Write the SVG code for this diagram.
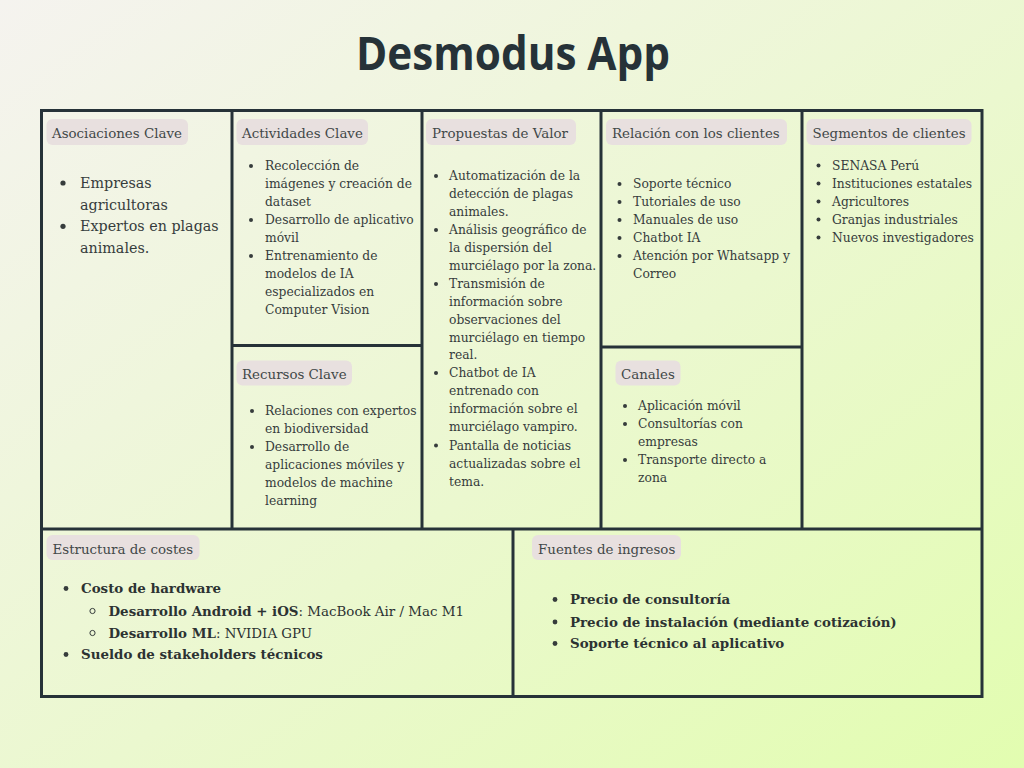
<svg xmlns="http://www.w3.org/2000/svg" width="1024" height="768" viewBox="0 0 1024 768">
<defs>
<linearGradient id="bg" x1="0" y1="0" x2="1" y2="1">
<stop offset="0" stop-color="#f5f3ef"/>
<stop offset="0.55" stop-color="#ebf8cf"/>
<stop offset="1" stop-color="#e2fdb0"/>
</linearGradient>
<style>
.pill{fill:#e8e0df}
.ph{font-family:"DejaVu Serif","Liberation Serif",serif;font-size:13.4px;fill:#424848}
.b{font-family:"DejaVu Serif","Liberation Serif",serif;font-size:12.3px;fill:#363c3c}
.bl{font-family:"DejaVu Serif","Liberation Serif",serif;font-size:14.3px;fill:#363c3c}
.bb{font-family:"DejaVu Serif","Liberation Serif",serif;font-size:13.4px;font-weight:bold;fill:#2c3232}
.r{font-weight:normal}
.dot{fill:#363c3c}
.ring{fill:none;stroke:#363c3c;stroke-width:1}
.grid{stroke:#263238;stroke-width:3;fill:none}
.title{font-family:"Open Sans","DejaVu Sans",sans-serif;font-weight:bold;font-size:46px;fill:#263238}
</style>
</defs>
<rect x="0" y="0" width="1024" height="768" fill="url(#bg)"/>
<text class="title" x="356" y="70" textLength="314" lengthAdjust="spacingAndGlyphs">Desmodus App</text>

<g id="connectors">
<rect class="grid" x="41.5" y="110.5" width="940.5" height="586"/>
<line class="grid" x1="232" y1="110" x2="232" y2="529"/>
<line class="grid" x1="422" y1="110" x2="422" y2="529"/>
<line class="grid" x1="601" y1="110" x2="601" y2="529"/>
<line class="grid" x1="802" y1="110" x2="802" y2="529"/>
<line class="grid" x1="232" y1="345.5" x2="422" y2="345.5"/>
<line class="grid" x1="601" y1="347" x2="802" y2="347"/>
<line class="grid" x1="41" y1="529" x2="982" y2="529"/>
<line class="grid" x1="513" y1="529" x2="513" y2="697"/>
</g>

<g id="asociaciones-clave">
<rect class="pill" x="46.5" y="119" width="141.5" height="26" rx="6"/>
<text class="ph" x="52" y="137.5">Asociaciones Clave</text>
<circle class="dot" cx="63" cy="183" r="2.6"/>
<circle class="dot" cx="63" cy="226.3" r="2.6"/>
<text class="bl"><tspan x="80" y="188">Empresas</tspan><tspan x="80" y="209.7">agricultoras</tspan><tspan x="80" y="231.3">Expertos en plagas</tspan><tspan x="80" y="253">animales.</tspan></text>
</g>

<g id="actividades-clave">
<rect class="pill" x="236.5" y="119" width="131.5" height="26" rx="6"/>
<text class="ph" x="242" y="137.5">Actividades Clave</text>
<circle class="dot" cx="251" cy="166" r="2"/>
<circle class="dot" cx="251" cy="220" r="2"/>
<circle class="dot" cx="251" cy="256" r="2"/>
<text class="b"><tspan x="265" y="170">Recolección de</tspan><tspan x="265" y="188">imágenes y creación de</tspan><tspan x="265" y="206">dataset</tspan><tspan x="265" y="224">Desarrollo de aplicativo</tspan><tspan x="265" y="242">móvil</tspan><tspan x="265" y="260">Entrenamiento de</tspan><tspan x="265" y="278">modelos de IA</tspan><tspan x="265" y="296">especializados en</tspan><tspan x="265" y="314">Computer Vision</tspan></text>
</g>

<g id="recursos-clave">
<rect class="pill" x="236.5" y="360.5" width="115.5" height="25" rx="6"/>
<text class="ph" x="242" y="378.5">Recursos Clave</text>
<circle class="dot" cx="252" cy="411" r="2"/>
<circle class="dot" cx="252" cy="447" r="2"/>
<text class="b"><tspan x="265" y="415">Relaciones con expertos</tspan><tspan x="265" y="433">en biodiversidad</tspan><tspan x="265" y="451">Desarrollo de</tspan><tspan x="265" y="469">aplicaciones móviles y</tspan><tspan x="265" y="487">modelos de machine</tspan><tspan x="265" y="505">learning</tspan></text>
</g>

<g id="propuestas-de-valor">
<rect class="pill" x="426" y="119" width="150" height="26" rx="6"/>
<text class="ph" x="432" y="137.5">Propuestas de Valor</text>
<circle class="dot" cx="436" cy="176" r="2"/>
<circle class="dot" cx="436" cy="230" r="2"/>
<circle class="dot" cx="436" cy="284" r="2"/>
<circle class="dot" cx="436" cy="373" r="2"/>
<circle class="dot" cx="436" cy="445.5" r="2"/>
<text class="b"><tspan x="449" y="180">Automatización de la</tspan><tspan x="449" y="198">detección de plagas</tspan><tspan x="449" y="216">animales.</tspan><tspan x="449" y="234">Análisis geográfico de</tspan><tspan x="449" y="252">la dispersión del</tspan><tspan x="449" y="270">murciélago por la zona.</tspan><tspan x="449" y="288">Transmisión de</tspan><tspan x="449" y="306">información sobre</tspan><tspan x="449" y="324">observaciones del</tspan><tspan x="449" y="342">murciélago en tiempo</tspan><tspan x="449" y="359">real.</tspan><tspan x="449" y="377">Chatbot de IA</tspan><tspan x="449" y="395">entrenado con</tspan><tspan x="449" y="413">información sobre el</tspan><tspan x="449" y="431">murciélago vampiro.</tspan><tspan x="449" y="449.5">Pantalla de noticias</tspan><tspan x="449" y="467.5">actualizadas sobre el</tspan><tspan x="449" y="485.5">tema.</tspan></text>
</g>

<g id="relacion-con-los-clientes">
<rect class="pill" x="606" y="119" width="181" height="26" rx="6"/>
<text class="ph" x="612" y="137.5">Relación con los clientes</text>
<circle class="dot" cx="619.5" cy="184" r="2"/>
<circle class="dot" cx="619.5" cy="202" r="2"/>
<circle class="dot" cx="619.5" cy="220" r="2"/>
<circle class="dot" cx="619.5" cy="238" r="2"/>
<circle class="dot" cx="619.5" cy="256" r="2"/>
<text class="b"><tspan x="633" y="188">Soporte técnico</tspan><tspan x="633" y="206">Tutoriales de uso</tspan><tspan x="633" y="224">Manuales de uso</tspan><tspan x="633" y="242">Chatbot IA</tspan><tspan x="633" y="260">Atención por Whatsapp y</tspan><tspan x="633" y="278">Correo</tspan></text>
</g>

<g id="canales">
<rect class="pill" x="615.5" y="360.5" width="65" height="25" rx="6"/>
<text class="ph" x="621" y="378.5">Canales</text>
<circle class="dot" cx="625" cy="406" r="2"/>
<circle class="dot" cx="625" cy="424" r="2"/>
<circle class="dot" cx="625" cy="460" r="2"/>
<text class="b"><tspan x="638" y="410">Aplicación móvil</tspan><tspan x="638" y="428">Consultorías con</tspan><tspan x="638" y="446">empresas</tspan><tspan x="638" y="464">Transporte directo a</tspan><tspan x="638" y="482">zona</tspan></text>
</g>

<g id="segmentos-de-clientes">
<rect class="pill" x="806.5" y="119" width="165" height="26" rx="6"/>
<text class="ph" x="812.5" y="137.5">Segmentos de clientes</text>
<circle class="dot" cx="818.5" cy="165.5" r="2"/>
<circle class="dot" cx="818.5" cy="183.5" r="2"/>
<circle class="dot" cx="818.5" cy="201.5" r="2"/>
<circle class="dot" cx="818.5" cy="219.5" r="2"/>
<circle class="dot" cx="818.5" cy="237.5" r="2"/>
<text class="b"><tspan x="832" y="169.5">SENASA Perú</tspan><tspan x="832" y="187.5">Instituciones estatales</tspan><tspan x="832" y="205.5">Agricultores</tspan><tspan x="832" y="223.5">Granjas industriales</tspan><tspan x="832" y="241.5">Nuevos investigadores</tspan></text>
</g>

<g id="estructura-de-costes">
<rect class="pill" x="46.5" y="535" width="153" height="25" rx="6"/>
<text class="ph" x="52.5" y="553.5">Estructura de costes</text>
<circle class="dot" cx="66" cy="588.5" r="2.4"/>
<circle class="ring" cx="92.5" cy="611" r="2.6"/>
<circle class="ring" cx="92.5" cy="633" r="2.6"/>
<circle class="dot" cx="66" cy="654.5" r="2.4"/>
<text class="bb"><tspan x="81" y="593.3">Costo de hardware</tspan><tspan x="108.5" y="615.5">Desarrollo Android + iOS<tspan class="r">: MacBook Air / Mac M1</tspan></tspan><tspan x="108.5" y="637.5">Desarrollo ML<tspan class="r">: NVIDIA GPU</tspan></tspan><tspan x="81" y="659.3">Sueldo de stakeholders técnicos</tspan></text>
</g>

<g id="fuentes-de-ingresos">
<rect class="pill" x="532" y="535" width="149" height="25" rx="6"/>
<text class="ph" x="538" y="553.5">Fuentes de ingresos</text>
<circle class="dot" cx="555" cy="599.5" r="2.4"/>
<circle class="dot" cx="555" cy="622" r="2.4"/>
<circle class="dot" cx="555" cy="643.5" r="2.4"/>
<text class="bb"><tspan x="570" y="604">Precio de consultoría</tspan><tspan x="570" y="626.5">Precio de instalación (mediante cotización)</tspan><tspan x="570" y="648.3">Soporte técnico al aplicativo</tspan></text>
</g>
</svg>
